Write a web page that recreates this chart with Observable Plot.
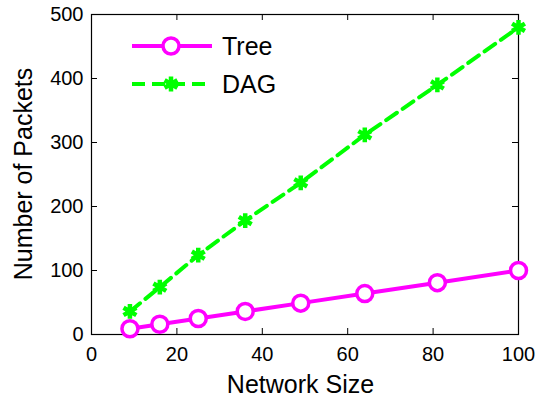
<!DOCTYPE html>
<html>
<head>
<meta charset="utf-8">
<script src="https://cdn.jsdelivr.net/npm/d3@7"></script>
<script src="https://cdn.jsdelivr.net/npm/@observablehq/plot@0.6"></script>
<style>
  html, body { margin: 0; padding: 0; background: #fff; }
  #chart svg { display: block; }
</style>
</head>
<body>
<div id="chart"></div>
<script>
const networkSize = [9, 16, 25, 36, 49, 64, 81, 100];
const treePackets = [9, 16, 25, 36, 49, 64, 81, 100];
const dagPackets = [36, 74, 124, 178, 237, 312, 390, 480];
const xTicks = [0, 20, 40, 60, 80, 100];
const yTicks = [0, 100, 200, 300, 400, 500];
const seriesNames = ["Tree", "DAG"];

const tree = networkSize.map((x, i) => ({x, y: treePackets[i]}));
const dag = networkSize.map((x, i) => ({x, y: dagPackets[i]}));

const W = 537, H = 402;
const mL = 91, mR = 19, mT = 14, mB = 68;
const pw = W - mL - mR, ph = H - mT - mB;
const font = "'Liberation Sans', Arial, Helvetica, sans-serif";
const magenta = "#ff00ff", green = "#00ff00";

const chart = Plot.plot({
  width: W, height: H,
  marginLeft: mL, marginRight: mR, marginTop: mT, marginBottom: mB,
  style: {fontFamily: font, fontSize: "20px", color: "#000", background: "#fff"},
  x: {domain: [0, 100]},
  y: {domain: [0, 500]},
  marks: [
    Plot.axisX(xTicks, {tickSize: 0, tickPadding: 12, fontSize: 20, label: null}),
    Plot.axisY(yTicks, {tickSize: 0, tickPadding: 8, fontSize: 20, label: null}),
    Plot.tickX(xTicks, {x: d => d, insetTop: ph - 6, stroke: "#000"}),
    Plot.tickX(xTicks, {x: d => d, insetBottom: ph - 6, stroke: "#000"}),
    Plot.tickY(yTicks, {y: d => d, insetRight: pw - 6, stroke: "#000"}),
    Plot.tickY(yTicks, {y: d => d, insetLeft: pw - 6, stroke: "#000"}),
    Plot.frame({stroke: "#000", strokeWidth: 1.2}),
    Plot.line(dag, {x: "x", y: "y", stroke: green, strokeWidth: 4, strokeDasharray: "13,7"}),
    Plot.dot(dag, {x: "x", y: "y", symbol: "asterisk", r: 7, stroke: green, strokeWidth: 4.5, fill: green}),
    Plot.line(tree, {x: "x", y: "y", stroke: magenta, strokeWidth: 4}),
    Plot.dot(tree, {x: "x", y: "y", symbol: "circle", r: 8, stroke: magenta, strokeWidth: 3.5, fill: "#fff"})
  ]
});

const svg = d3.select(chart);
// Axis titles
svg.append("text")
  .attr("x", mL + pw / 2 - 4).attr("y", 393)
  .attr("text-anchor", "middle")
  .attr("font-family", font).attr("font-size", 25).attr("fill", "#000")
  .text("Network Size");
svg.append("text")
  .attr("transform", `translate(32,${mT + ph / 2}) rotate(-90)`)
  .attr("text-anchor", "middle")
  .attr("font-family", font).attr("font-size", 25).attr("fill", "#000")
  .text("Number of Packets");

// Legend
const leg = svg.append("g");
const legendRows = [
  {name: seriesNames[0], color: magenta, dash: null, y: 46, sym: "circle"},
  {name: seriesNames[1], color: green, dash: "13,7", y: 84, sym: "asterisk"}
];
legendRows.forEach(r => {
  leg.append("line").attr("x1", 132).attr("x2", 212).attr("y1", r.y).attr("y2", r.y)
    .attr("stroke", r.color).attr("stroke-width", 4)
    .attr("stroke-dasharray", r.dash);
  if (r.sym === "circle") {
    leg.append("circle").attr("cx", 171).attr("cy", r.y).attr("r", 8)
      .attr("fill", "#fff").attr("stroke", r.color).attr("stroke-width", 3.5);
  } else {
    leg.append("path").attr("transform", `translate(171,${r.y})`)
      .attr("d", d3.symbol(d3.symbolAsterisk, Math.PI * 49)())
      .attr("fill", r.color).attr("stroke", r.color).attr("stroke-width", 4.5);
  }
  leg.append("text").attr("x", 222).attr("y", r.y + 9)
    .attr("text-anchor", "start")
    .attr("font-family", font).attr("font-size", 25).attr("fill", "#000")
    .text(r.name);
});

document.getElementById("chart").appendChild(chart);
</script>
</body>
</html>
